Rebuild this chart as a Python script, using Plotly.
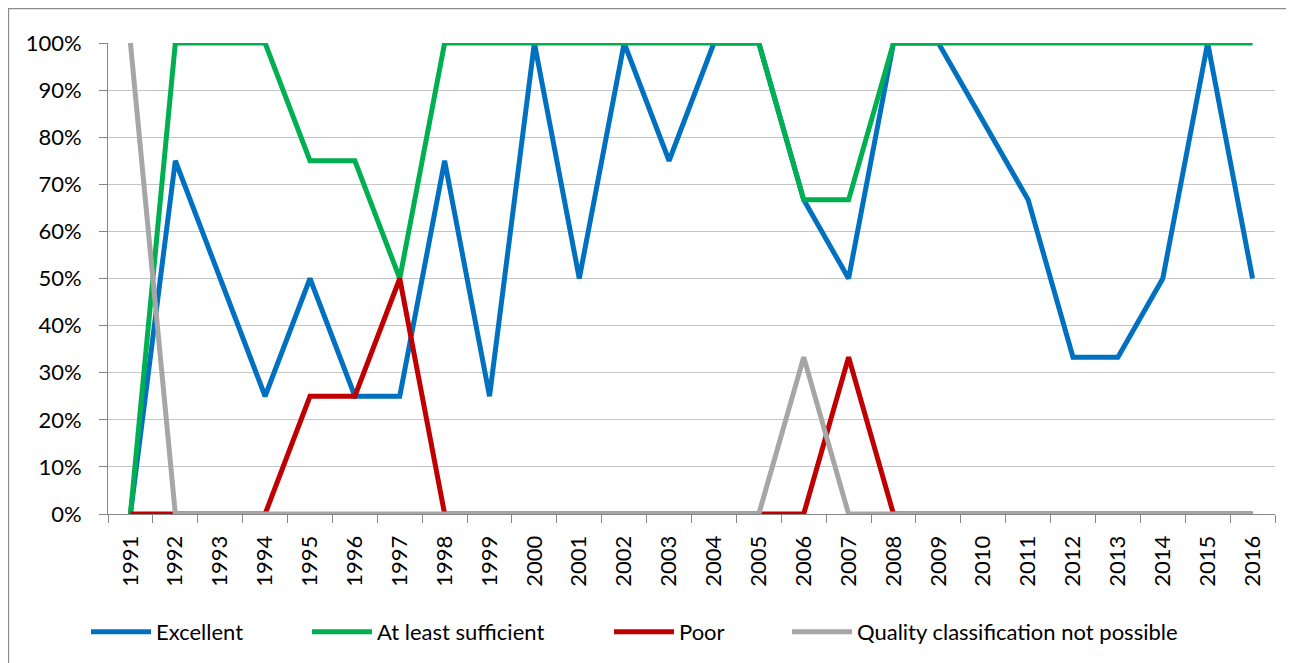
import plotly.graph_objects as go

years = [str(y) for y in range(1991, 2017)]
excellent = [0, 75, 50, 25, 50, 25, 25, 75, 25, 100, 50, 100, 75, 100, 100, 66.7, 50, 100, 100, 83.3, 66.7, 33.3, 33.3, 50, 100, 50]
sufficient = [0, 100, 100, 100, 75, 75, 50, 100, 100, 100, 100, 100, 100, 100, 100, 66.7, 66.7, 100, 100, 100, 100, 100, 100, 100, 100, 100]
poor = [0, 0, 0, 0, 25, 25, 50, 0, 0, 0, 0, 0, 0, 0, 0, 0, 33.3, 0, 0, 0, 0, 0, 0, 0, 0, 0]
not_possible = [100, 0, 0, 0, 0, 0, 0, 0, 0, 0, 0, 0, 0, 0, 0, 33.3, 0, 0, 0, 0, 0, 0, 0, 0, 0, 0]

series = [
    ("Excellent", excellent, "#0070C0"),
    ("At least sufficient", sufficient, "#00B050"),
    ("Poor", poor, "#C00000"),
    ("Quality classification not possible", not_possible, "#A6A6A6"),
]

W, H = 1294, 663
L, R, T, B = 100, 27, 35, 157
pw = W - L - R
ph = H - T - B

def px_to_paper_x(p):
    return (p - L) / pw

def px_to_paper_y(p):
    return (H - B - p) / ph

legend_x_px = [78, 299, 601, 779]
legend_names = ["legend", "legend2", "legend3", "legend4"]

FONT = "Lato"
FS = 22
fig = go.Figure()
for (name, vals, col), lg in zip(series, legend_names):
    fig.add_trace(go.Scatter(
        x=years, y=vals, name=name, mode="lines",
        line=dict(color=col, width=5),
        cliponaxis=False, legend=lg,
    ))

layout_legends = {}
for lg, xp in zip(legend_names, legend_x_px):
    layout_legends[lg] = dict(
        x=px_to_paper_x(xp), xanchor="left",
        y=px_to_paper_y(624), yanchor="middle",
        orientation="h", itemwidth=60,
        font=dict(family=FONT, size=FS, color="#000000"),
        bgcolor="rgba(0,0,0,0)", borderwidth=0,
    )

fig.update_layout(
    width=W, height=H,
    margin=dict(l=L, r=R, t=T, b=B, pad=0),
    paper_bgcolor="white", plot_bgcolor="white",
    font=dict(family=FONT, size=FS, color="#000000"),
    showlegend=True,
    **layout_legends,
)

fig.update_xaxes(
    type="category", range=[-0.5, 25.5],
    showgrid=False, showline=True, linecolor="#868686", linewidth=1,
    ticks="outside", tickson="boundaries", ticklen=8, tickcolor="#868686",
    tickangle=-90, ticklabelstandoff=12,
    tickfont=dict(family=FONT, size=FS, color="#000000"),
    layer="below traces",
)
fig.update_yaxes(
    range=[0, 100], dtick=10, ticksuffix="%",
    showgrid=True, gridcolor="#C6C6C6", gridwidth=1,
    showline=True, linecolor="#868686", linewidth=1,
    ticks="outside", ticklen=8, tickcolor="#868686",
    ticklabelstandoff=13, zeroline=False,
    tickfont=dict(family=FONT, size=FS, color="#000000"),
    layer="below traces",
)

fig.add_shape(
    type="rect", xref="paper", yref="paper",
    x0=px_to_paper_x(0.5), x1=px_to_paper_x(1320),
    y0=px_to_paper_y(700), y1=px_to_paper_y(0.5),
    line=dict(color="#8C8C8C", width=1.3), fillcolor="rgba(0,0,0,0)",
    layer="below",
)

fig.write_html("out.html")
